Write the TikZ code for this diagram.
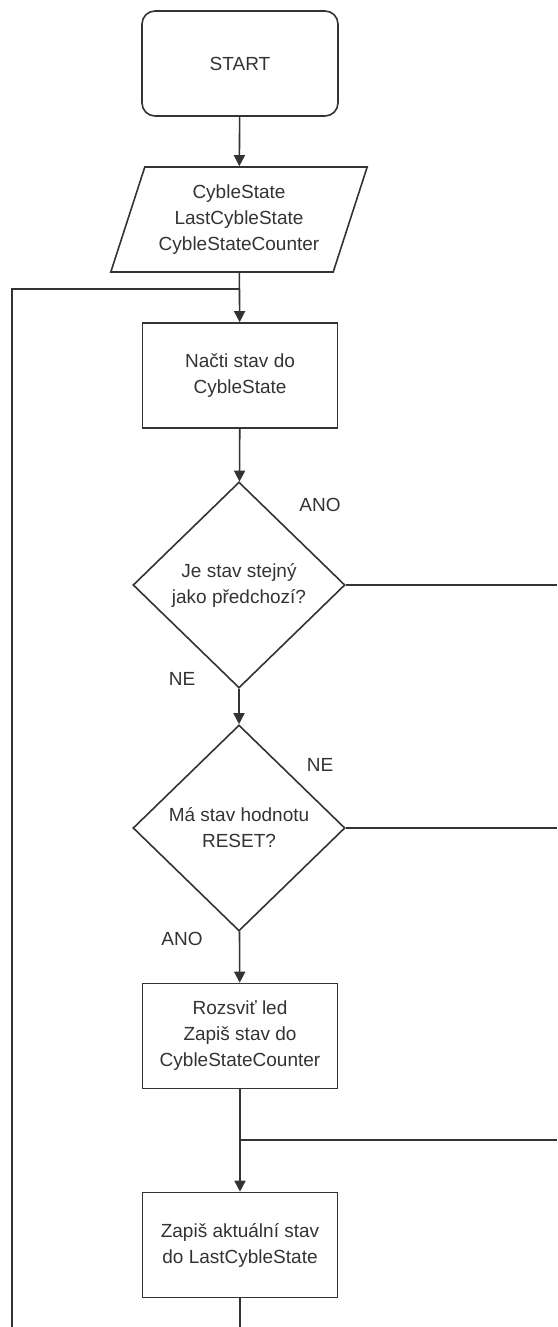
\documentclass[tikz,border=0pt]{standalone}
\usepackage{fontspec}
\setmainfont{Liberation Sans}
\usepackage{tikz}
\usetikzlibrary{arrows.meta}
\usetikzlibrary{shapes.geometric}

\begin{document}
\begin{tikzpicture}[x=1pt, y=-1pt,
                        every node/.style={text=black!80, font=\fontsize{19}{26}\selectfont, align=center},
                        line/.style={draw=black!80, line width=1.6pt},
                        arr/.style={line, -{Triangle[length=11pt, width=11pt]}},
                        terminal/.style={line, rectangle, rounded corners=13pt, minimum width=196pt, minimum height=105pt},
                        proc/.style={line, rectangle, minimum width=195pt, minimum height=105pt},
                        io/.style={line, trapezium, trapezium left angle=72, trapezium right angle=108, minimum height=105pt, inner xsep=-11.5pt},
                        decision/.style={line, diamond, minimum width=212pt, minimum height=206pt, inner sep=0pt}]
      \useasboundingbox (0,0) rectangle (557,1327);

      \node[terminal] (start) at (240,63.5) {START};
      \node[io] (vars) at (239,219.5) {CybleState\\LastCybleState\\CybleStateCounter};
      \node[proc] (read) at (240,375.5) {Načti stav do\\CybleState};
      \node[decision] (same) at (239,585) {Je stav stejný\\jako předchozí?};
      \node[decision] (reset) at (239,828) {Má stav hodnotu\\RESET?};
      \node[proc] (led) at (240,1036) {Rozsviť led\\Zapiš stav do\\CybleStateCounter};
      \node[proc] (write) at (240,1245) {Zapiš aktuální stav\\do LastCybleState};

      \coordinate (loop) at (240,289);
      \coordinate (loopcorner) at (12,289);
      \coordinate (loopend) at (12,1327);
      \coordinate (sameout) at (557,585);
      \coordinate (resetout) at (557,828);
      \coordinate (join) at (240,1140);
      \coordinate (joinin) at (557,1140);
      \coordinate (writeout) at (240,1327);

      \draw[arr] (start) -- (vars);
      \draw[arr] (vars) -- (read);
      \draw[line] (loopend) -- (loopcorner) -- (loop);
      \draw[arr] (read) -- (same);
      \draw[arr] (same) -- (reset);
      \draw[line] (same.east) -- (sameout);
      \draw[line] (reset.east) -- (resetout);
      \draw[arr] (reset) -- (led);
      \draw[arr] (led) -- (write);
      \draw[line] (joinin) -- (join);
      \draw[line] (write) -- (writeout);

      \node (anoA) at (320,505) {ANO};
      \node (neA) at (182,679) {NE};
      \node (neB) at (320,765) {NE};
      \node (anoB) at (182,939) {ANO};
    \end{tikzpicture}
\end{document}
